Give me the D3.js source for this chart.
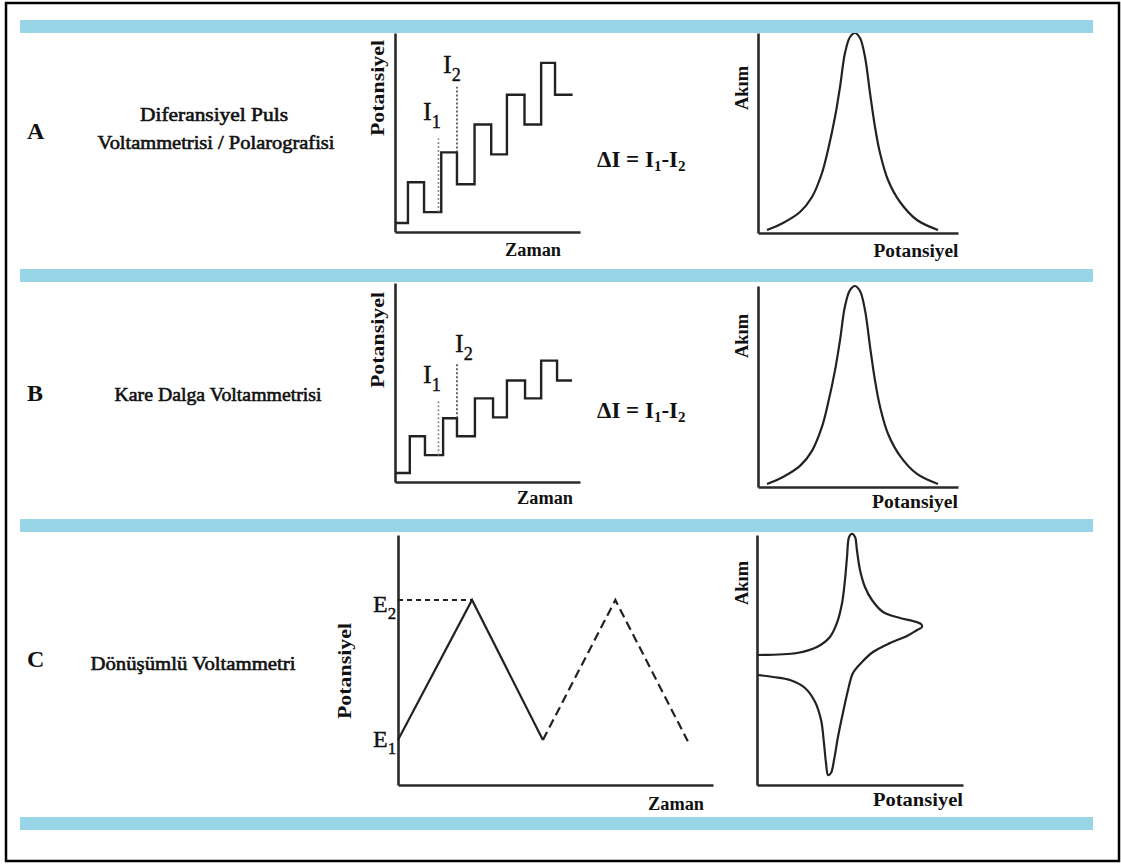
<!DOCTYPE html>
<html>
<head>
<meta charset="utf-8">
<script src="https://cdn.jsdelivr.net/npm/d3@7"></script>
<style>
    body { margin: 0; background: #fff; }
    text { fill: #111; }
</style>
</head>
<body>
<div id="figure"></div>
<script>
// Row letters and technique names
var rowLetters = ["A", "B", "C"];
var techniqueA = ["Diferansiyel Puls", "Voltammetrisi / Polarografisi"];
var techniqueB = ["Kare Dalga Voltammetrisi"];
var techniqueC = ["Dönüşümlü Voltammetri"];

// A: differential pulse staircase (time %, potential %)
var dpTime = [0, 7, 15.7, 25, 33.5, 43, 52, 60.5, 70, 79, 86.5, 96];
var dpLevel = [4.5, 25, 10, 40, 24, 54, 39, 69, 54, 85, 69, 69];
var dpMarkTime = [23.5, 33.5];
var dpMarkFrom = [10, 40];
var dpMarkTo = [47, 73];

// B: square wave staircase
var swTime = [0, 8, 16.2, 26, 33.5, 43.2, 53, 60.5, 70.3, 79, 87.6, 95.7];
var swLevel = [4.5, 23, 13.5, 32, 23, 42, 32.5, 51, 42, 61, 51, 51];
var swMarkTime = [23.5, 33.5];
var swMarkFrom = [13.5, 32];
var swMarkTo = [41, 60];

// A and B: peak shaped response (potential %, current %)
var peakPot = [4.5, 12.5, 21, 27, 32, 35, 38.5, 41, 43.5, 46, 48.5, 51, 53.5, 56, 58.5, 61, 65, 71, 79.5, 90];
var peakCur = [1.5, 5, 10.5, 18, 30, 41.5, 58, 73, 90, 98, 100, 97.5, 88, 70, 53, 40, 26.5, 15.5, 6.5, 1.5];

// C: triangular potential sweep
var cvTime = [0, 23.5, 46, 69, 92];
var cvPot = [18, 74, 18, 74, 17.5];

// C: cyclic voltammogram (potential %, current %)
var cvE = [0, 19.4, 29.1, 35.4, 38.8, 41.3, 42.7, 43.7, 44.7, 46.1, 47.6, 48.5, 50, 52.4, 55.8, 61.2, 69.4, 75.7, 79.6, 80.1,
    77.7, 72.8, 64.6, 56.3, 51, 46.6, 44.2, 41.7, 39.3, 37.4, 35.9, 34.5, 33.5, 32.5, 31.1, 28.2, 23.3, 16, 7.8, 0.5];
var cvI = [52, 52.8, 55.2, 59.2, 64.8, 72.8, 82, 91.2, 99.2, 100.5, 99.2, 94, 86, 79.2, 74, 69.2, 66.8, 65.6, 64.4, 63.2,
    62, 59.6, 56.8, 53.2, 49.2, 44.8, 38, 28.8, 19.2, 10, 4.8, 4, 8.8, 16.8, 26, 33.2, 38.8, 42, 43.2, 44];

var svg = d3.select("#figure")
    .append("svg")
    .attr("width", 1121)
    .attr("height", 864)
    .attr("font-family", "'Liberation Serif', 'DejaVu Serif', serif");

/**
 * Adds a plain label. opts: size, weight, anchor, rotate, len, stroke
 */
function addLabel(x, y, txt, opts) {
    var t = svg.append("text")
        .attr("x", x)
        .attr("y", y)
        .attr("font-size", opts.size)
        .attr("font-weight", opts.weight || "normal")
        .attr("text-anchor", opts.anchor || "middle")
        .text(txt);
    if (opts.rotate) {
        t.attr("transform", "rotate(-90," + x + "," + y + ")");
    }
    if (opts.len) {
        t.attr("textLength", opts.len).attr("lengthAdjust", "spacingAndGlyphs");
    }
    if (opts.stroke) {
        t.attr("stroke", "#111").attr("stroke-width", opts.stroke);
    }
    return t;
}

/**
 * Label with a subscript, e.g. I1 or E2
 */
function addSubLabel(x, y, main, sub, size) {
    var t = svg.append("text")
        .attr("x", x)
        .attr("y", y)
        .attr("font-size", size)
        .attr("stroke", "#111")
        .attr("stroke-width", 0.4);
    t.append("tspan").text(main);
    t.append("tspan").attr("font-size", size * 0.7).attr("dy", size * 0.3).text(sub);
}

/**
 * Draws the two bare axes of a small plot, with d3 axes without ticks
 */
function addAxes(x, y) {
    var bottom = svg.append("g")
        .attr("transform", "translate(0," + y.range()[0] + ")")
        .call(d3.axisBottom(x).tickValues([]).tickSizeOuter(0));
    var left = svg.append("g")
        .attr("transform", "translate(" + x.range()[0] + ",0)")
        .call(d3.axisLeft(y).tickValues([]).tickSizeOuter(0));
    [bottom, left].forEach(function (g) {
        g.select(".domain").attr("stroke", "#2a2a2a").attr("stroke-width", 2.6);
    });
}

function makeScales(x0, x1, yBase, yTop) {
    return {
        x: d3.scaleLinear().domain([0, 100]).range([x0, x1]),
        y: d3.scaleLinear().domain([0, 100]).range([yBase, yTop])
    };
}

/**
 * Staircase potential vs time, with the two sampling markers
 */
function drawStepPanel(s, times, levels, markTime, markFrom, markTo) {
    addAxes(s.x, s.y);
    var pts = times.map(function (t, i) { return [t, levels[i]]; });
    var line = d3.line()
        .x(function (d) { return s.x(d[0]); })
        .y(function (d) { return s.y(d[1]); })
        .curve(d3.curveStepAfter);
    svg.append("path")
        .attr("d", line(pts))
        .attr("fill", "none")
        .attr("stroke", "#222")
        .attr("stroke-width", 2.4);

    markTime.forEach(function (t, i) {
        svg.append("line")
            .attr("x1", s.x(t)).attr("x2", s.x(t))
            .attr("y1", s.y(markFrom[i])).attr("y2", s.y(markTo[i]))
            .attr("stroke", i == 0 ? "#888" : "#444")
            .attr("stroke-width", 1.6)
            .attr("stroke-dasharray", "2,2");
    });
}

/**
 * Smooth current response drawn through the read points
 */
function drawCurve(s, xs, ys) {
    var line = d3.line()
        .x(function (d) { return s.x(d[0]); })
        .y(function (d) { return s.y(d[1]); })
        .curve(d3.curveCatmullRom.alpha(0.5));
    svg.append("path")
        .attr("d", line(xs.map(function (v, i) { return [v, ys[i]]; })))
        .attr("fill", "none")
        .attr("stroke", "#222")
        .attr("stroke-width", 2.2);
}

function drawPeakPanel(s) {
    addAxes(s.x, s.y);
    drawCurve(s, peakPot, peakCur);
}

function drawTrianglePanel(s) {
    addAxes(s.x, s.y);
    var line = d3.line()
        .x(function (d) { return s.x(d[0]); })
        .y(function (d) { return s.y(d[1]); });
    var pts = cvTime.map(function (t, i) { return [t, cvPot[i]]; });

    // first cycle solid, second cycle dashed
    svg.append("path")
        .attr("d", line(pts.slice(0, 3)))
        .attr("fill", "none")
        .attr("stroke", "#222")
        .attr("stroke-width", 2.2);
    svg.append("path")
        .attr("d", line(pts.slice(2)))
        .attr("fill", "none")
        .attr("stroke", "#222")
        .attr("stroke-width", 2.2)
        .attr("stroke-dasharray", "9,5");

    // E2 guide
    svg.append("line")
        .attr("x1", s.x(0)).attr("x2", s.x(cvTime[1]))
        .attr("y1", s.y(cvPot[1])).attr("y2", s.y(cvPot[1]))
        .attr("stroke", "#222")
        .attr("stroke-width", 1.8)
        .attr("stroke-dasharray", "5,4");

    addSubLabel(s.x(0) - 25, s.y(cvPot[1]) + 12, "E", "2", 24);
    addSubLabel(s.x(0) - 25, s.y(cvPot[0]) + 7, "E", "1", 24);
}

function drawCvPanel(s) {
    addAxes(s.x, s.y);
    drawCurve(s, cvE, cvI);
}

function drawDeltaLabel(x, y) {
    var t = svg.append("text")
        .attr("x", x)
        .attr("y", y)
        .attr("font-size", 23)
        .attr("font-weight", "bold");
    t.append("tspan").text("ΔI = I");
    t.append("tspan").attr("font-size", 15).attr("dy", 4).text("1");
    t.append("tspan").attr("dy", -4).text("-I");
    t.append("tspan").attr("font-size", 15).attr("dy", 4).text("2");
}

function drawFigure() {
    // Row A
    var stepA = makeScales(395, 580, 232, 33);
    drawStepPanel(stepA, dpTime, dpLevel, dpMarkTime, dpMarkFrom, dpMarkTo);
    addSubLabel(423, 120, "I", "1", 26);
    addSubLabel(443, 73, "I", "2", 26);
    drawDeltaLabel(597, 167);
    drawPeakPanel(makeScales(758, 958, 233, 33));

    // Row B
    var stepB = makeScales(395, 580, 482, 283);
    drawStepPanel(stepB, swTime, swLevel, swMarkTime, swMarkFrom, swMarkTo);
    addSubLabel(423, 383, "I", "1", 26);
    addSubLabel(455, 352, "I", "2", 26);
    drawDeltaLabel(597, 418);
    drawPeakPanel(makeScales(758, 958, 487, 286));

    // Row C
    drawTrianglePanel(makeScales(398, 713, 785, 535));
    drawCvPanel(makeScales(757, 963, 785, 535));

    // axis titles
    var ax = {size: 18, weight: "bold"};
    [[384, 88], [384, 340], [351, 671]].forEach(function (p) {
        addLabel(p[0], p[1], "Potansiyel", Object.assign({rotate: true, len: 96}, ax));
    });
    [[533, 256], [545, 504], [676, 810]].forEach(function (p) {
        addLabel(p[0], p[1], "Zaman", Object.assign({len: 56}, ax));
    });
    [[748, 88], [748, 336], [748, 583]].forEach(function (p) {
        addLabel(p[0], p[1], "Akım", Object.assign({rotate: true, len: 44}, ax));
    });
    [[916, 257, 85], [915, 508, 86], [918, 806, 90]].forEach(function (p) {
        addLabel(p[0], p[1], "Potansiyel", Object.assign({len: p[2]}, ax));
    });

    // row letters and technique names
    var letterY = [139, 401, 667];
    rowLetters.forEach(function (l, i) {
        addLabel(27, letterY[i], l, {size: 24, weight: "bold", anchor: "start"});
    });
    addLabel(214, 121, techniqueA[0], {size: 19, len: 148, stroke: 0.6});
    addLabel(216, 149, techniqueA[1], {size: 19, len: 237, stroke: 0.6});
    addLabel(218, 401, techniqueB[0], {size: 19, len: 207, stroke: 0.6});
    addLabel(193, 670, techniqueC[0], {size: 19, len: 205, stroke: 0.6});

    // separator bands
    [20, 269, 519, 817].forEach(function (y) {
        svg.append("rect")
            .attr("x", 20).attr("y", y)
            .attr("width", 1073).attr("height", 13)
            .attr("fill", "#97d5e7");
    });

    // outer frame
    svg.append("rect")
        .attr("x", 6).attr("y", 3)
        .attr("width", 1113).attr("height", 858)
        .attr("fill", "none")
        .attr("stroke", "#000")
        .attr("stroke-width", 2.5);
}

drawFigure();
</script>
</body>
</html>
